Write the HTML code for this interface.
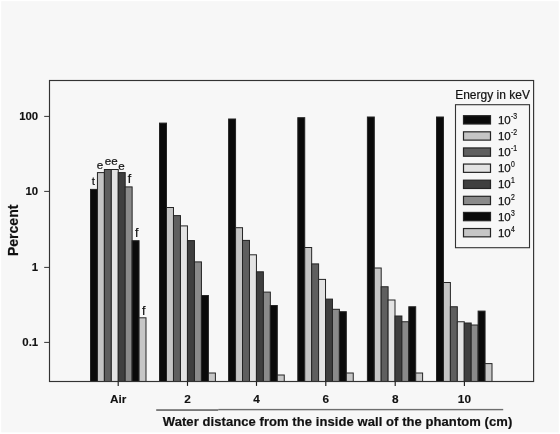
<!DOCTYPE html>
<html><head><meta charset="utf-8"><title>Chart</title>
<style>
html,body{margin:0;padding:0;background:#fff;}
body{width:560px;height:434px;overflow:hidden;}
svg{display:block;}
text{font-family:"Liberation Sans",Arial,Helvetica,sans-serif;fill:#111;}
.b11{font-size:11.4px;font-weight:bold;stroke:#111;stroke-width:0.12px;}
.b11x{font-size:11.8px;font-weight:bold;stroke:#111;stroke-width:0.12px;}
.b13{font-size:13px;font-weight:bold;stroke:#111;stroke-width:0.2px;}
.b14{font-size:14px;font-weight:bold;stroke:#111;stroke-width:0.2px;}
.r116{font-size:11.6px;stroke:#111;stroke-width:0.2px;}
.r116f{font-size:12.4px;stroke:#111;stroke-width:0.2px;}
.r12{font-size:12px;stroke:#111;stroke-width:0.2px;}
.sup{font-size:8.6px;stroke:#111;stroke-width:0.2px;}
.r115{font-size:11.5px;stroke:#111;stroke-width:0.25px;}
</style></head><body>
<svg width="560" height="434" viewBox="0 0 560 434">
<rect x="0" y="0" width="560" height="434" fill="#ffffff"/>
<rect x="1.2" y="1.2" width="557.5" height="431.2" fill="#f7f7f7"/>
<rect x="90.50" y="189.40" width="6.94" height="192.10" fill="#0a0a0a" stroke="#242424" stroke-width="1"/>
<rect x="97.44" y="172.60" width="6.94" height="208.90" fill="#c5c5c5" stroke="#242424" stroke-width="1"/>
<rect x="104.38" y="169.50" width="6.94" height="212.00" fill="#5f5f5f" stroke="#242424" stroke-width="1"/>
<rect x="111.31" y="169.50" width="6.94" height="212.00" fill="#e3e3e3" stroke="#242424" stroke-width="1"/>
<rect x="118.25" y="172.60" width="6.94" height="208.90" fill="#3f3f3f" stroke="#242424" stroke-width="1"/>
<rect x="125.19" y="186.90" width="6.94" height="194.60" fill="#8a8a8a" stroke="#242424" stroke-width="1"/>
<rect x="132.12" y="240.70" width="6.94" height="140.80" fill="#0a0a0a" stroke="#242424" stroke-width="1"/>
<rect x="139.06" y="317.80" width="6.94" height="63.70" fill="#c6c6c6" stroke="#242424" stroke-width="1"/>
<rect x="159.50" y="123.10" width="6.99" height="258.40" fill="#0a0a0a" stroke="#242424" stroke-width="1"/>
<rect x="166.49" y="207.50" width="6.99" height="174.00" fill="#c5c5c5" stroke="#242424" stroke-width="1"/>
<rect x="173.47" y="215.60" width="6.99" height="165.90" fill="#5f5f5f" stroke="#242424" stroke-width="1"/>
<rect x="180.46" y="225.90" width="6.99" height="155.60" fill="#e3e3e3" stroke="#242424" stroke-width="1"/>
<rect x="187.45" y="240.60" width="6.99" height="140.90" fill="#3f3f3f" stroke="#242424" stroke-width="1"/>
<rect x="194.44" y="261.90" width="6.99" height="119.60" fill="#8a8a8a" stroke="#242424" stroke-width="1"/>
<rect x="201.43" y="295.50" width="6.99" height="86.00" fill="#0a0a0a" stroke="#242424" stroke-width="1"/>
<rect x="208.41" y="373.00" width="6.99" height="8.50" fill="#c6c6c6" stroke="#242424" stroke-width="1"/>
<rect x="228.60" y="119.00" width="6.96" height="262.50" fill="#0a0a0a" stroke="#242424" stroke-width="1"/>
<rect x="235.56" y="227.70" width="6.96" height="153.80" fill="#c5c5c5" stroke="#242424" stroke-width="1"/>
<rect x="242.51" y="240.40" width="6.96" height="141.10" fill="#5f5f5f" stroke="#242424" stroke-width="1"/>
<rect x="249.47" y="254.80" width="6.96" height="126.70" fill="#e3e3e3" stroke="#242424" stroke-width="1"/>
<rect x="256.43" y="271.80" width="6.96" height="109.70" fill="#3f3f3f" stroke="#242424" stroke-width="1"/>
<rect x="263.38" y="292.10" width="6.96" height="89.40" fill="#8a8a8a" stroke="#242424" stroke-width="1"/>
<rect x="270.34" y="305.50" width="6.96" height="76.00" fill="#0a0a0a" stroke="#242424" stroke-width="1"/>
<rect x="277.29" y="375.00" width="6.96" height="6.50" fill="#c6c6c6" stroke="#242424" stroke-width="1"/>
<rect x="297.80" y="117.70" width="6.93" height="263.80" fill="#0a0a0a" stroke="#242424" stroke-width="1"/>
<rect x="304.73" y="247.50" width="6.93" height="134.00" fill="#c5c5c5" stroke="#242424" stroke-width="1"/>
<rect x="311.66" y="263.90" width="6.93" height="117.60" fill="#5f5f5f" stroke="#242424" stroke-width="1"/>
<rect x="318.59" y="279.40" width="6.93" height="102.10" fill="#e3e3e3" stroke="#242424" stroke-width="1"/>
<rect x="325.52" y="299.10" width="6.93" height="82.40" fill="#3f3f3f" stroke="#242424" stroke-width="1"/>
<rect x="332.46" y="309.30" width="6.93" height="72.20" fill="#8a8a8a" stroke="#242424" stroke-width="1"/>
<rect x="339.39" y="311.70" width="6.93" height="69.80" fill="#0a0a0a" stroke="#242424" stroke-width="1"/>
<rect x="346.32" y="373.00" width="6.93" height="8.50" fill="#c6c6c6" stroke="#242424" stroke-width="1"/>
<rect x="367.40" y="117.00" width="6.90" height="264.50" fill="#0a0a0a" stroke="#242424" stroke-width="1"/>
<rect x="374.30" y="268.00" width="6.90" height="113.50" fill="#c5c5c5" stroke="#242424" stroke-width="1"/>
<rect x="381.20" y="286.75" width="6.90" height="94.75" fill="#5f5f5f" stroke="#242424" stroke-width="1"/>
<rect x="388.10" y="300.00" width="6.90" height="81.50" fill="#e3e3e3" stroke="#242424" stroke-width="1"/>
<rect x="395.00" y="316.00" width="6.90" height="65.50" fill="#3f3f3f" stroke="#242424" stroke-width="1"/>
<rect x="401.90" y="321.75" width="6.90" height="59.75" fill="#8a8a8a" stroke="#242424" stroke-width="1"/>
<rect x="408.80" y="306.75" width="6.90" height="74.75" fill="#0a0a0a" stroke="#242424" stroke-width="1"/>
<rect x="415.70" y="373.00" width="6.90" height="8.50" fill="#c6c6c6" stroke="#242424" stroke-width="1"/>
<rect x="436.50" y="117.00" width="6.94" height="264.50" fill="#0a0a0a" stroke="#242424" stroke-width="1"/>
<rect x="443.44" y="282.50" width="6.94" height="99.00" fill="#c5c5c5" stroke="#242424" stroke-width="1"/>
<rect x="450.38" y="306.75" width="6.94" height="74.75" fill="#5f5f5f" stroke="#242424" stroke-width="1"/>
<rect x="457.31" y="321.75" width="6.94" height="59.75" fill="#e3e3e3" stroke="#242424" stroke-width="1"/>
<rect x="464.25" y="323.00" width="6.94" height="58.50" fill="#3f3f3f" stroke="#242424" stroke-width="1"/>
<rect x="471.19" y="325.00" width="6.94" height="56.50" fill="#8a8a8a" stroke="#242424" stroke-width="1"/>
<rect x="478.12" y="311.10" width="6.94" height="70.40" fill="#0a0a0a" stroke="#242424" stroke-width="1"/>
<rect x="485.06" y="363.60" width="6.94" height="17.90" fill="#c6c6c6" stroke="#242424" stroke-width="1"/>
<rect x="49.5" y="80.5" width="484.1" height="301.0" fill="none" stroke="#333333" stroke-width="1.15"/>
<line x1="44.2" y1="116.4" x2="49.5" y2="116.4" stroke="#333333" stroke-width="1"/>
<text x="38.2" y="120.2" text-anchor="end" class="b11">100</text>
<line x1="44.2" y1="191.4" x2="49.5" y2="191.4" stroke="#333333" stroke-width="1"/>
<text x="38.2" y="195.2" text-anchor="end" class="b11">10</text>
<line x1="44.2" y1="267.4" x2="49.5" y2="267.4" stroke="#333333" stroke-width="1"/>
<text x="38.2" y="271.2" text-anchor="end" class="b11">1</text>
<line x1="44.2" y1="342.4" x2="49.5" y2="342.4" stroke="#333333" stroke-width="1"/>
<text x="38.2" y="346.2" text-anchor="end" class="b11">0.1</text>
<line x1="118.20" y1="381.5" x2="118.20" y2="385.9" stroke="#1c1c1c" stroke-width="1.15"/>
<text x="118.20" y="402.6" text-anchor="middle" class="b11x">Air</text>
<line x1="187.50" y1="381.5" x2="187.50" y2="385.9" stroke="#1c1c1c" stroke-width="1.15"/>
<text x="187.50" y="402.6" text-anchor="middle" class="b11x">2</text>
<line x1="256.50" y1="381.5" x2="256.50" y2="385.9" stroke="#1c1c1c" stroke-width="1.15"/>
<text x="256.50" y="402.6" text-anchor="middle" class="b11x">4</text>
<line x1="325.80" y1="381.5" x2="325.80" y2="385.9" stroke="#1c1c1c" stroke-width="1.15"/>
<text x="325.80" y="402.6" text-anchor="middle" class="b11x">6</text>
<line x1="395.20" y1="381.5" x2="395.20" y2="385.9" stroke="#1c1c1c" stroke-width="1.15"/>
<text x="395.20" y="402.6" text-anchor="middle" class="b11x">8</text>
<line x1="464.40" y1="381.5" x2="464.40" y2="385.9" stroke="#1c1c1c" stroke-width="1.15"/>
<text x="464.40" y="402.6" text-anchor="middle" class="b11x">10</text>
<rect x="156.2" y="409.3" width="62" height="1.5" fill="#5a5a5a"/>
<rect x="218.2" y="408.9" width="285" height="1.4" fill="#6e6e6e"/>
<text x="162.8" y="426.2" class="b13" textLength="349.5" lengthAdjust="spacing">Water distance from the inside wall of the phantom (cm)</text>
<text transform="translate(18.4 256) rotate(-90)" class="b14">Percent</text>
<text x="93.27" y="185.40" text-anchor="middle" class="r116">t</text>
<text x="100.01" y="169.20" text-anchor="middle" class="r116">e</text>
<text x="108.04" y="165.40" text-anchor="middle" class="r116">e</text>
<text x="114.38" y="165.40" text-anchor="middle" class="r116">e</text>
<text x="121.52" y="169.70" text-anchor="middle" class="r116">e</text>
<text x="129.56" y="182.60" text-anchor="middle" class="r116f">f</text>
<text x="136.69" y="236.80" text-anchor="middle" class="r116f">f</text>
<text x="143.63" y="314.80" text-anchor="middle" class="r116f">f</text>
<text x="455.2" y="98.5" class="r12">Energy in keV</text>
<rect x="455.5" y="104.7" width="74" height="143" fill="none" stroke="#333333" stroke-width="1.1"/>
<rect x="463.5" y="115.70" width="27.0" height="8.3" fill="#0a0a0a" stroke="#242424" stroke-width="1.2"/>
<text x="497.9" y="124.00" class="r115">10</text>
<text transform="translate(511.0 118.90) scale(0.8 1)" class="sup">-3</text>
<rect x="463.5" y="131.82" width="27.0" height="8.3" fill="#c5c5c5" stroke="#242424" stroke-width="1.2"/>
<text x="497.9" y="140.12" class="r115">10</text>
<text transform="translate(511.0 135.02) scale(0.8 1)" class="sup">-2</text>
<rect x="463.5" y="147.94" width="27.0" height="8.3" fill="#5f5f5f" stroke="#242424" stroke-width="1.2"/>
<text x="497.9" y="156.24" class="r115">10</text>
<text transform="translate(511.0 151.14) scale(0.8 1)" class="sup">-1</text>
<rect x="463.5" y="164.06" width="27.0" height="8.3" fill="#e3e3e3" stroke="#242424" stroke-width="1.2"/>
<text x="497.9" y="172.36" class="r115">10</text>
<text transform="translate(511.0 167.26) scale(0.8 1)" class="sup">0</text>
<rect x="463.5" y="180.18" width="27.0" height="8.3" fill="#3f3f3f" stroke="#242424" stroke-width="1.2"/>
<text x="497.9" y="188.48" class="r115">10</text>
<text transform="translate(511.0 183.38) scale(0.8 1)" class="sup">1</text>
<rect x="463.5" y="196.30" width="27.0" height="8.3" fill="#8a8a8a" stroke="#242424" stroke-width="1.2"/>
<text x="497.9" y="204.60" class="r115">10</text>
<text transform="translate(511.0 199.50) scale(0.8 1)" class="sup">2</text>
<rect x="463.5" y="212.42" width="27.0" height="8.3" fill="#0a0a0a" stroke="#242424" stroke-width="1.2"/>
<text x="497.9" y="220.72" class="r115">10</text>
<text transform="translate(511.0 215.62) scale(0.8 1)" class="sup">3</text>
<rect x="463.5" y="228.54" width="27.0" height="8.3" fill="#c6c6c6" stroke="#242424" stroke-width="1.2"/>
<text x="497.9" y="236.84" class="r115">10</text>
<text transform="translate(511.0 231.74) scale(0.8 1)" class="sup">4</text>
</svg>
</body></html>
